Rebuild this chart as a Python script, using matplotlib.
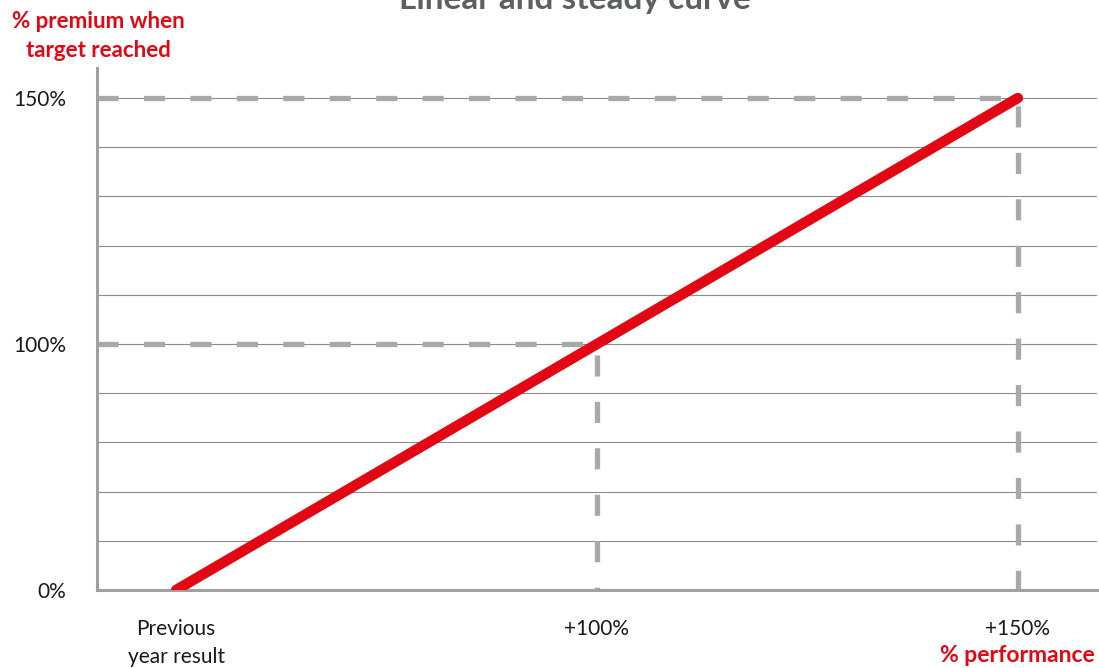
import numpy as np
import matplotlib
matplotlib.use("Agg")
import matplotlib.pyplot as plt

# chart values
performance = [0, 100, 150]          # x: previous year result, +100%, +150%
premium = [0, 100, 150]              # y: % premium
x_labels = ["Previous\nyear result", "+100%", "+150%"]
y_labels = ["0%", "100%", "150%"]
y_grid = [0, 20, 40, 60, 80, 100, 110, 120, 130, 140, 150]

# piecewise scale: 0, 100 and 150 sit at equal distances
bp_data = [-100, 0, 100, 150, 250]
bp_pos = [-1, 0, 1, 2, 4]


def forward(v):
    return np.interp(v, bp_data, bp_pos)


def inverse(p):
    return np.interp(p, bp_pos, bp_data)


plt.rcParams['font.family'] = ['Lato', 'DejaVu Sans']

red = '#e30613'
dash_grey = '#a7a9ab'

fig = plt.figure(figsize=(10.99, 6.68), dpi=100)
ax = fig.add_axes([97 / 1099, 78 / 668, 1000 / 1099, 522 / 668])
ax.set_xscale('function', functions=(forward, inverse))
ax.set_yscale('function', functions=(forward, inverse))
ax.set_xlim(-18.8, 159.4)
ax.set_ylim(0, 156.1)

# grid
for g in y_grid:
    ax.axhline(g, color='#8c8c8c', lw=0.8, zorder=1)

# dashed guides
for p, q in zip(performance[1:], premium[1:]):
    ax.plot([-18.8, p, p], [q, q, 0], color=dash_grey, lw=3.8,
            dashes=(4.0, 4.8), zorder=2, solid_capstyle='butt')

# the curve
ax.plot(performance, premium, color=red, lw=7.5, solid_capstyle='round', zorder=3)

for s in ['top', 'right']:
    ax.spines[s].set_visible(False)
for s in ['left', 'bottom']:
    ax.spines[s].set_color('#a0a0a0')
    ax.spines[s].set_linewidth(2.2)

ax.set_xticks(performance)
ax.set_xticklabels(x_labels, fontsize=15, color='#1a1a1a', linespacing=1.5)
ax.set_yticks(premium)
ax.set_yticklabels(y_labels, fontsize=15, color='#1a1a1a')
ax.tick_params(axis='both', length=0)
ax.tick_params(axis='x', pad=21)
ax.tick_params(axis='y', pad=22)

fig.text(575 / 1099, 1.0, "Linear and steady curve", ha='center', va='center',
         fontsize=24, fontweight='bold', color='#5b6065')
fig.text(98 / 1099, 1 - 36 / 668, "% premium when\ntarget reached", ha='center',
         va='center', fontsize=16, fontweight='bold', color=red, linespacing=1.45)
fig.text(1095 / 1099, 1 - 656 / 668, "% performance", ha='right', va='center',
         fontsize=16.5, fontweight='bold', color=red)

plt.savefig("out.png", dpi=100)
plt.close()
